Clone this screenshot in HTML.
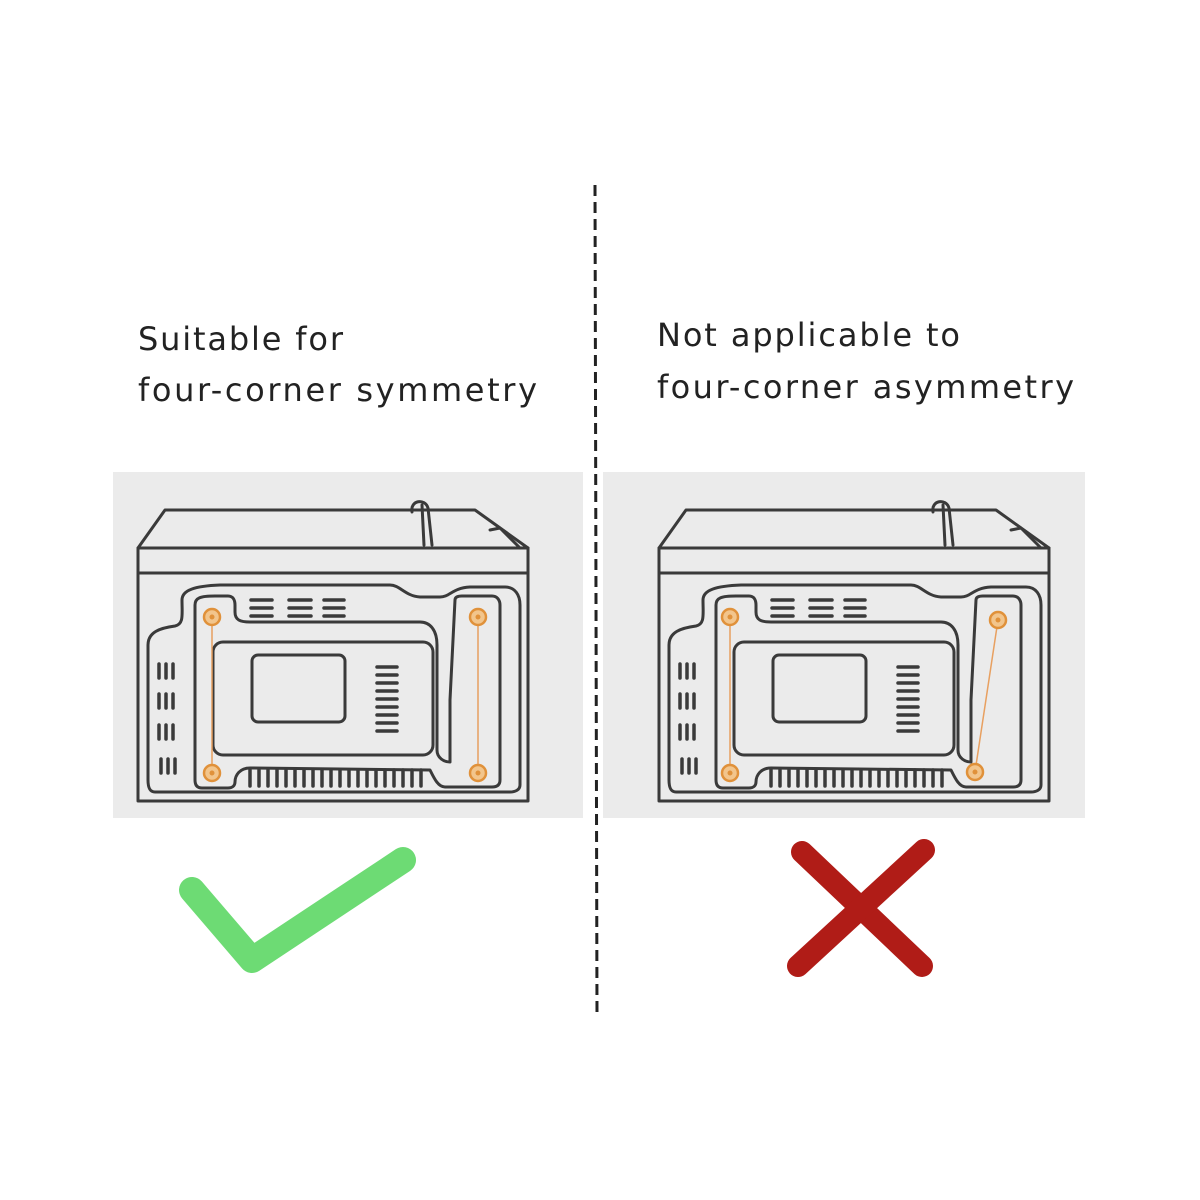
<!DOCTYPE html>
<html><head><meta charset="utf-8"><style>html,body{margin:0;padding:0;background:#fff}svg{display:block}</style></head>
<body>
<svg width="1200" height="1200" viewBox="0 0 1200 1200" xmlns="http://www.w3.org/2000/svg">
<defs>
<g id="mw" fill="none" stroke="#3a3a3a" stroke-width="3" stroke-linejoin="round" stroke-linecap="round">
  <path d="M165,510 L475,510 L528,548 L138,548 Z"/>
  <path d="M412,512 C410,500 425,498 428,508 L432,545 M422,505 L424,545"/>
  <path d="M490,530 L500,528 L520,548"/>
  <rect x="138" y="548" width="390" height="253"/>
  <line x1="138" y1="573" x2="528" y2="573"/>
  <path d="M182,600 C182,590 195,586 220,585 L390,585 C400,585 405,596 420,597 L440,597 C450,597 452,588 470,587 L505,587 C515,587 520,595 520,605 L520,785 C520,790 515,792 510,792 L155,792 C150,792 148,788 148,780 L148,645 C148,632 160,628 175,626 C184,624 182,615 182,600 Z"/>
  <path d="M195,605 C195,598 200,596 215,596 L228,596 C233,596 235,600 235,605 L235,612 C235,620 240,622 250,622 L420,622 C430,622 437,630 437,645 L437,750 C437,758 444,762 450,762 L450,700 L455,600 C455,597 458,596 462,596 L492,596 C497,596 500,600 500,605 L500,780 C500,785 497,787 492,787 L445,787 C438,787 434,778 430,770 L250,768 C240,768 235,775 235,782 C235,786 232,788 228,788 L202,788 C197,788 195,785 195,780 Z"/>
  <rect x="213" y="642" width="220" height="113" rx="10"/>
  <rect x="252" y="655" width="93" height="67" rx="6"/>
</g>
<g id="vents" stroke="#3a3a3a" stroke-width="3.5" stroke-linecap="round">
  <path d="M251,600h21M251,608h21M251,616h21M289,600h22M289,608h22M289,616h22M324,600h20M324,608h20M324,616h20"/>
  <path d="M377,667h20M377,675h20M377,683h20M377,691h20M377,699h20M377,707h20M377,715h20M377,723h20M377,731h20"/>
  <path d="M159,664v14M166,664v14M173,664v14M159,694v14M166,694v14M173,694v14M159,725v14M166,725v14M173,725v14M161,759v14M168,759v14M175,759v14"/>
  <path d="M250,770v16M259,770v16M268,770v16M277,770v16M286,770v16M295,770v16M304,770v16M313,770v16M322,770v16M331,770v16M340,770v16M349,770v16M358,770v16M367,770v16M376,770v16M385,770v16M394,770v16M403,770v16M412,770v16M421,770v16"/>
</g>
<g id="scr" fill="#f2c58c" stroke="#e0913a" stroke-width="2.5"><circle r="8"/><circle r="2.5" fill="#e0913a" stroke="none"/></g>
</defs>

<rect x="113" y="472" width="470" height="346" fill="#ebebeb"/>
<rect x="603" y="472" width="482" height="346" fill="#ebebeb"/>

<g>
  <use href="#mw"/><use href="#vents"/>
  <line x1="212" y1="617" x2="212" y2="773" stroke="#e8a060" stroke-width="1.5"/>
  <line x1="478" y1="617" x2="478" y2="773" stroke="#e8a060" stroke-width="1.5"/>
  <use href="#scr" x="212" y="617"/><use href="#scr" x="212" y="773"/>
  <use href="#scr" x="478" y="617"/><use href="#scr" x="478" y="773"/>
</g>
<g transform="translate(521,0)">
  <use href="#mw"/><use href="#vents"/>
</g>
<line x1="730" y1="617" x2="730" y2="773" stroke="#e8a060" stroke-width="1.5"/>
<line x1="998" y1="620" x2="975" y2="772" stroke="#e8a060" stroke-width="1.5"/>
<use href="#scr" x="730" y="617"/><use href="#scr" x="730" y="773"/>
<use href="#scr" x="998" y="620"/><use href="#scr" x="975" y="772"/>

<line x1="595" y1="185" x2="597" y2="1015" stroke="#222" stroke-width="3" stroke-dasharray="11,6"/>

<g font-family="'DejaVu Sans','Liberation Sans',sans-serif" font-size="32" fill="#222">
  <text x="138" y="350" textLength="205" lengthAdjust="spacing">Suitable for</text>
  <text x="138" y="401" textLength="399" lengthAdjust="spacing">four-corner symmetry</text>
  <text x="657" y="346" textLength="303" lengthAdjust="spacing">Not applicable to</text>
  <text x="657" y="398" textLength="417" lengthAdjust="spacing">four-corner asymmetry</text>
</g>

<polyline points="192,890 252,960 403,860" fill="none" stroke="#6ddb74" stroke-width="26" stroke-linecap="round" stroke-linejoin="round"/>
<g stroke="#b01c17" stroke-width="22" stroke-linecap="round">
  <line x1="802" y1="852" x2="922" y2="966"/>
  <line x1="924" y1="850" x2="798" y2="966"/>
</g>
</svg>
</body></html>
